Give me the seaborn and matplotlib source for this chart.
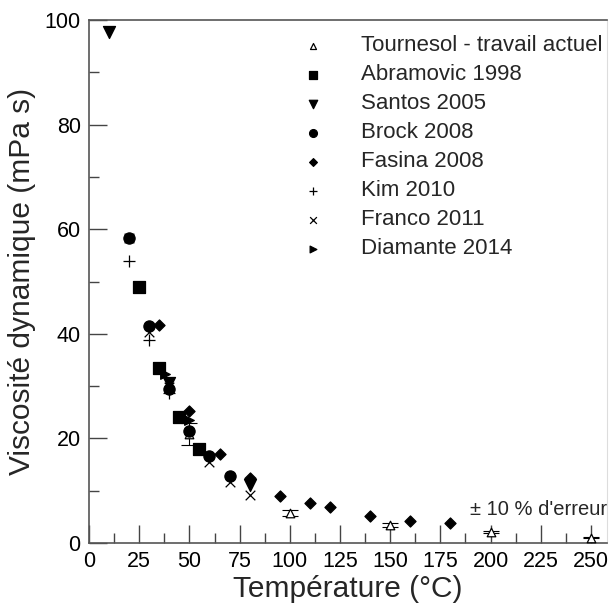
import matplotlib
matplotlib.use("Agg")
import matplotlib.pyplot as plt
from matplotlib.ticker import MultipleLocator
import pandas as pd
import seaborn as sns

# --- Data --------------------------------------------------------------------
tournesol_T = [50, 100, 150, 200, 250]
tournesol_mu = [20.8, 5.7, 3.4, 2.0, 1.0]

abramovic_T = [25, 35, 45, 55]
abramovic_mu = [49.0, 33.5, 24.0, 17.9]

santos_T = [10, 40, 80]
santos_mu = [97.8, 30.6, 11.1]

brock_T = [20, 30, 40, 50, 60, 70]
brock_mu = [58.4, 41.5, 29.4, 21.5, 16.6, 12.8]

fasina_T = [35, 50, 65, 80, 95, 110, 120, 140, 160, 180]
fasina_mu = [41.7, 25.2, 17.1, 12.4, 9.0, 7.6, 6.8, 5.2, 4.2, 3.8]

kim_T = [20, 30, 40]
kim_mu = [54.0, 38.8, 28.6]

franco_T = [20, 30, 40, 60, 70, 80]
franco_mu = [58.4, 40.4, 29.8, 15.5, 11.7, 9.2]

diamante_T = [38, 50]
diamante_mu = [32.4, 23.5]

# --- Style -------------------------------------------------------------------
sns.set_style("white")
plt.rcParams['font.family'] = ['Liberation Sans', 'DejaVu Sans']

series = [
    ("Tournesol - travail actuel", tournesol_T, tournesol_mu, "^", "white", 38),
    ("Abramovic 1998", abramovic_T, abramovic_mu, "s", "black", 75),
    ("Santos 2005", santos_T, santos_mu, "v", "black", 75),
    ("Brock 2008", brock_T, brock_mu, "o", "black", 65),
    ("Fasina 2008", fasina_T, fasina_mu, "D", "black", 32),
    ("Kim 2010", kim_T, kim_mu, "+", "black", 65),
    ("Franco 2011", franco_T, franco_mu, "x", "black", 48),
    ("Diamante 2014", diamante_T, diamante_mu, ">", "black", 48),
]

fig = plt.figure(figsize=(6.1, 6.1), dpi=100)
ax = fig.add_axes([0.146, 0.110, 0.849, 0.857])

# error bars (+/- 10 %) on the present work
ax.errorbar(tournesol_T, tournesol_mu, yerr=[0.1 * v for v in tournesol_mu],
            fmt='none', ecolor='black', elinewidth=0.8, capsize=6, capthick=0.8,
            zorder=2)

for label, T, mu, marker, face, size in series:
    df = pd.DataFrame({"T": T, "mu": mu})
    if marker in ("+", "x"):
        sns.scatterplot(data=df, x="T", y="mu", marker=marker, color="black",
                        s=size, linewidth=0.9, label=label, ax=ax, zorder=3)
    else:
        sns.scatterplot(data=df, x="T", y="mu", marker=marker, facecolor=face,
                        edgecolor="black", s=size, linewidth=0.9, label=label,
                        ax=ax, zorder=3)

ax.set_xlim(0, 258)
ax.set_ylim(0, 100)
ax.xaxis.set_major_locator(MultipleLocator(25))
ax.xaxis.set_minor_locator(MultipleLocator(12.5))
ax.yaxis.set_major_locator(MultipleLocator(20))
ax.yaxis.set_minor_locator(MultipleLocator(10))
ax.tick_params(which='both', direction='in', bottom=True, left=True,
               top=False, right=False, colors='#444444', labelcolor='black',
               labelsize=15.5)
ax.tick_params(axis='x', which='major', length=13, width=1.0, pad=6)
ax.tick_params(axis='y', which='major', length=13, width=1.0, pad=6)
ax.tick_params(which='minor', length=7, width=1.0)

for side in ['left', 'bottom', 'top']:
    ax.spines[side].set_color('#555555')
    ax.spines[side].set_linewidth(1.2)
ax.spines['right'].set_color('#dddddd')
ax.spines['right'].set_linewidth(0.8)

ax.set_xlabel("Température (°C)", fontsize=21.5, labelpad=2)
ax.set_ylabel("Viscosité dynamique (mPa s)", fontsize=21.5, labelpad=6)

ax.text(1.0, 0.045, "± 10 % d'erreur", transform=ax.transAxes,
        ha='right', va='bottom', fontsize=14.5)

leg = ax.legend(loc='upper left', bbox_to_anchor=(0.35, 1.009), frameon=False,
                fontsize=16, handletextpad=1.2, labelspacing=0.36,
                markerscale=0.7)

plt.savefig("out.png", dpi=100)
plt.close()
